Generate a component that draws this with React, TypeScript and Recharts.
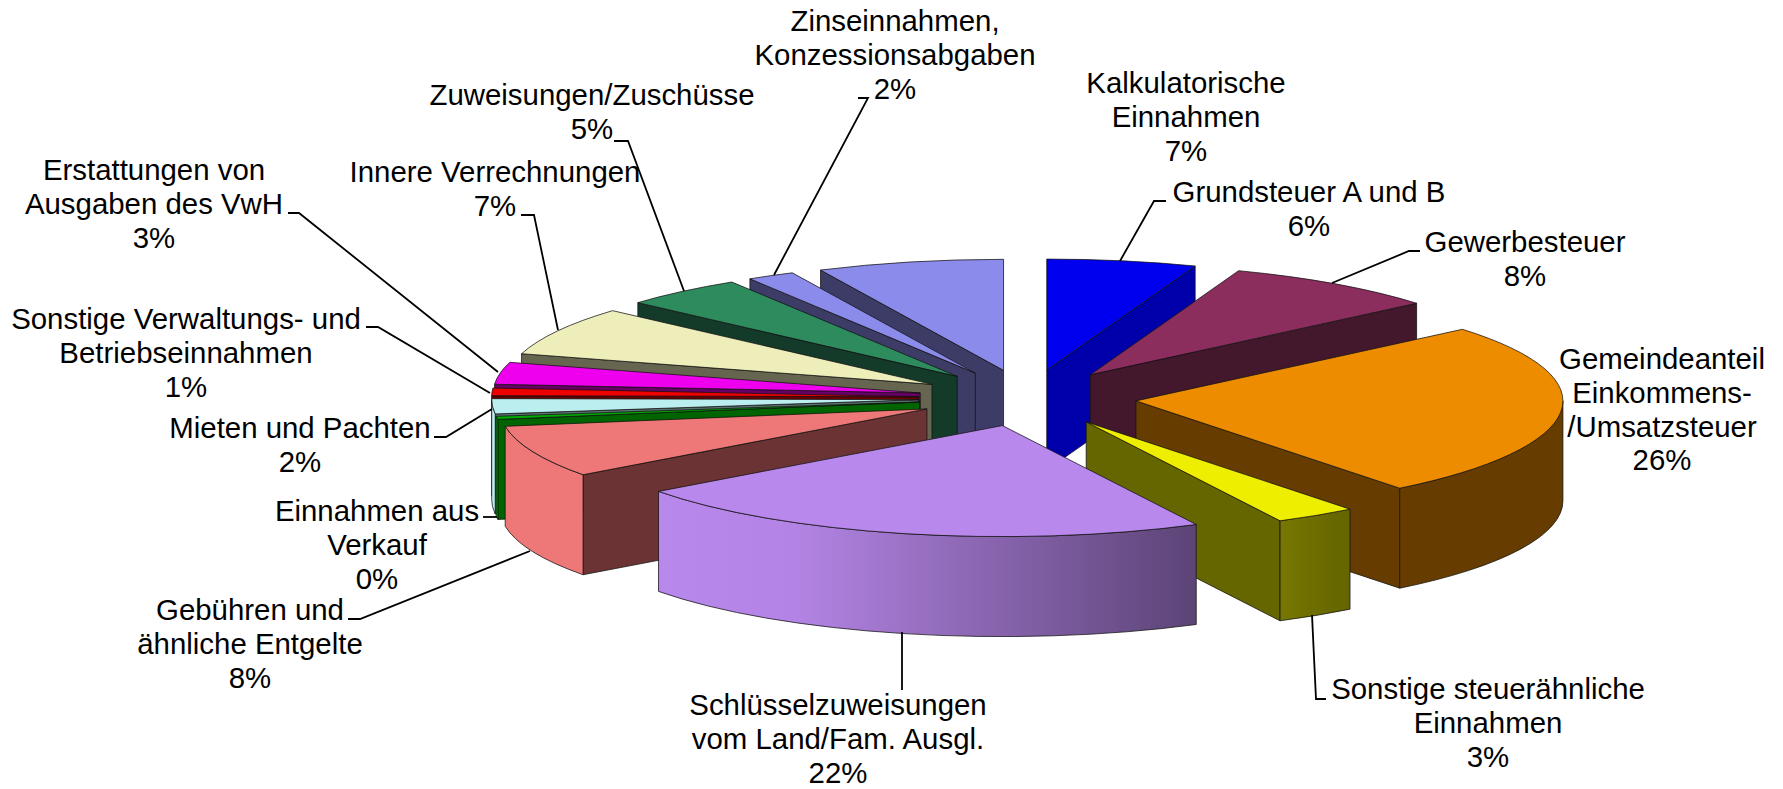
import { Pie, PieChart } from 'recharts'

const categories = [
  'Grundsteuer A und B',
  'Gewerbesteuer',
  'Gemeindeanteil|Einkommens-|/Umsatzsteuer',
  'Sonstige steuerähnliche|Einnahmen',
  'Schlüsselzuweisungen|vom Land/Fam. Ausgl.',
  'Gebühren und|ähnliche Entgelte',
  'Einnahmen aus|Verkauf',
  'Mieten und Pachten',
  'Sonstige Verwaltungs- und|Betriebseinnahmen',
  'Erstattungen von|Ausgaben des VwH',
  'Innere Verrechnungen',
  'Zuweisungen/Zuschüsse',
  'Zinseinnahmen,|Konzessionsabgaben',
  'Kalkulatorische|Einnahmen',
]
const shares = [5.65, 8.2, 25.55, 3.1, 22.4, 7.6, 0.45, 2.2, 1.1, 3.2, 7.1, 4.6, 1.8, 7.05]

const topColors = [
  '#0000ee', '#8b2e5e', '#ee8c00', '#eeee00', '#b888ec', '#ee7777', '#00aa00',
  '#bbeeee', '#ee0000', '#ee00ee', '#eeeebb', '#2e8b5e', '#8b8beb', '#8b8beb',
]
const wallColors = [
  '#0000aa', '#43172c', '#663c00', '#666600', '#5c4875', '#6b3333', '#006400',
  '#5a7272', '#660000', '#660066', '#666650', '#143a2a', '#3c3c66', '#3c3c66',
]

// label placement: centre x, first baseline, leader polyline
const labelSpots: { x: number; y: number; leader: number[][] }[] = [
  { x: 1309, y: 202, leader: [[1166, 201], [1154, 201], [1120, 261]] },
  { x: 1525, y: 252, leader: [[1420, 251], [1409, 251], [1332, 283]] },
  { x: 1662, y: 369, leader: [] },
  { x: 1488, y: 699, leader: [[1326, 699], [1316, 699], [1312, 615]] },
  { x: 838, y: 715, leader: [[902, 690], [902, 632]] },
  { x: 250, y: 620, leader: [[348, 619], [360, 619], [530, 551]] },
  { x: 377, y: 521, leader: [[483, 517], [497, 517]] },
  { x: 300, y: 438, leader: [[434, 437], [446, 437], [492, 409]] },
  { x: 186, y: 329, leader: [[366, 327], [378, 327], [490, 393]] },
  { x: 154, y: 180, leader: [[288, 213], [299, 213], [498, 372]] },
  { x: 495, y: 182, leader: [[521, 215], [534, 215], [558, 330]] },
  { x: 592, y: 105, leader: [[614, 141], [628, 141], [684, 291]] },
  { x: 895, y: 31, leader: [[858, 98], [868, 98], [774, 275]] },
  { x: 1186, y: 93, leader: [] },
]

const CX = 1027.5
const CY = 398
const RADIUS = 427
const SQUASH = 0.26
const EXPLODE = 109
const DEPTH = 100
const LINE_HEIGHT = 33.8

const chartData = categories.map((name, i) => ({ name, value: shares[i] }))

// paint order, back of the pie first
const total = shares.reduce((a, b) => a + b, 0)
let running = 0
const midOf = shares.map((v) => {
  const mid = ((running + v / 2) / total) * 2 * Math.PI
  running += v
  return mid
})
const paintOrder = shares.map((_, i) => i).sort((a, b) => Math.cos(midOf[b]) - Math.cos(midOf[a]))

function shadeFactor(sin: number) {
  return Math.min(1, Math.max(0.43, 1 - (sin + 0.55) * 0.5))
}

function darken(hex: string, k: number) {
  const n = parseInt(hex.slice(1), 16)
  const c = (s: number) => Math.round(((n >> s) & 255) * k)
  return `rgb(${c(16)},${c(8)},${c(0)})`
}

function Slice3D(props: any) {
  const { cx, cy, outerRadius, startAngle, endAngle, index } = props
  const rad = Math.PI / 180
  const a0 = (90 - startAngle) * rad
  const a1 = (90 - endAngle) * rad
  const mid = (a0 + a1) / 2
  const ry = outerRadius * SQUASH
  const vx = cx + EXPLODE * Math.sin(mid)
  const vy = cy - EXPLODE * SQUASH * Math.cos(mid)
  const pt = (t: number, drop = 0) => [vx + outerRadius * Math.sin(t), vy - ry * Math.cos(t) + drop]
  const arc = (t0: number, t1: number, sweep: number, drop = 0) => {
    const [x, y] = pt(sweep ? t1 : t0, drop)
    return `A${outerRadius} ${ry} 0 ${Math.abs(t1 - t0) > Math.PI ? 1 : 0} ${sweep} ${x} ${y}`
  }
  const top = pt(a0)
  const topPath = `M${vx} ${vy}L${top[0]} ${top[1]}${arc(a0, a1, 1)}Z`

  const wallAt = (t: number) => {
    const p = pt(t)
    return `M${vx} ${vy}L${p[0]} ${p[1]}L${p[0]} ${p[1] + DEPTH}L${vx} ${vy + DEPTH}Z`
  }

  const w0 = Math.max(a0, Math.PI / 2)
  const w1 = Math.min(a1, (3 * Math.PI) / 2)
  const hasRim = w1 > w0
  const gradId = `rim-${index}`
  const color = topColors[index]
  const line = { stroke: '#111', strokeOpacity: 0.75, strokeWidth: 1 }

  let rim = null
  if (hasRim) {
    const p0 = pt(w0)
    const p1 = pt(w1)
    const stops = [0, 0.25, 0.5, 0.75, 1].map((f) => {
      const x = p0[0] + (p1[0] - p0[0]) * f
      return { f, k: shadeFactor((x - vx) / outerRadius) }
    })
    const p1b = pt(w1, DEPTH)
    const rimPath =
      `M${p0[0]} ${p0[1]}${arc(w0, w1, 1)}L${p1b[0]} ${p1b[1]}` +
      `${arc(w0, w1, 0, DEPTH)}Z`
    rim = (
      <>
        <defs>
          <linearGradient id={gradId} gradientUnits="userSpaceOnUse" x1={p0[0]} y1={0} x2={p1[0]} y2={0}>
            {stops.map((s) => (
              <stop key={s.f} offset={s.f} stopColor={darken(color, s.k)} />
            ))}
          </linearGradient>
        </defs>
        <path d={rimPath} fill={`url(#${gradId})`} {...line} />
      </>
    )
  }

  return (
    <g>
      {Math.sin(a0) < -1e-6 && <path d={wallAt(a0)} fill={wallColors[index]} {...line} />}
      {Math.sin(a1) > 1e-6 && <path d={wallAt(a1)} fill={wallColors[index]} {...line} />}
      {rim}
      <path d={topPath} fill={color} {...line} />
    </g>
  )
}

function SliceLabel(props: any) {
  const { index, percent } = props
  const spot = labelSpots[index]
  const lines = [...categories[index].split('|'), `${Math.round(percent * 100)}%`]
  return (
    <g>
      {spot.leader.length > 0 && (
        <polyline
          points={spot.leader.map((p) => p.join(',')).join(' ')}
          fill="none"
          stroke="#000"
          strokeWidth={1.8}
        />
      )}
      {lines.map((text, i) => (
        <text
          key={i}
          x={spot.x}
          y={spot.y + i * LINE_HEIGHT}
          textAnchor="middle"
          fontFamily="'Liberation Sans', Arial, sans-serif"
          fontSize={29.4}
          fill="#000"
        >
          {text}
        </text>
      ))}
    </g>
  )
}

export default function App() {
  return (
    <div style={{ position: 'absolute', left: 0, top: 0, width: 1783, height: 789, background: '#fff' }}>
      <PieChart width={1783} height={789} margin={{ top: 0, right: 0, bottom: 0, left: 0 }}>
        {paintOrder.map((sliceIndex, layer) => (
          <Pie
            key={sliceIndex}
            data={chartData}
            dataKey="value"
            nameKey="name"
            cx={CX}
            cy={CY}
            outerRadius={RADIUS}
            startAngle={90}
            endAngle={-270}
            stroke="none"
            isAnimationActive={false}
            rootTabIndex={-1}
            labelLine={false}
            label={layer === paintOrder.length - 1 ? SliceLabel : false}
            shape={(p: any) => (p.index === sliceIndex ? <Slice3D {...p} /> : <g />)}
          />
        ))}
      </PieChart>
    </div>
  )
}
